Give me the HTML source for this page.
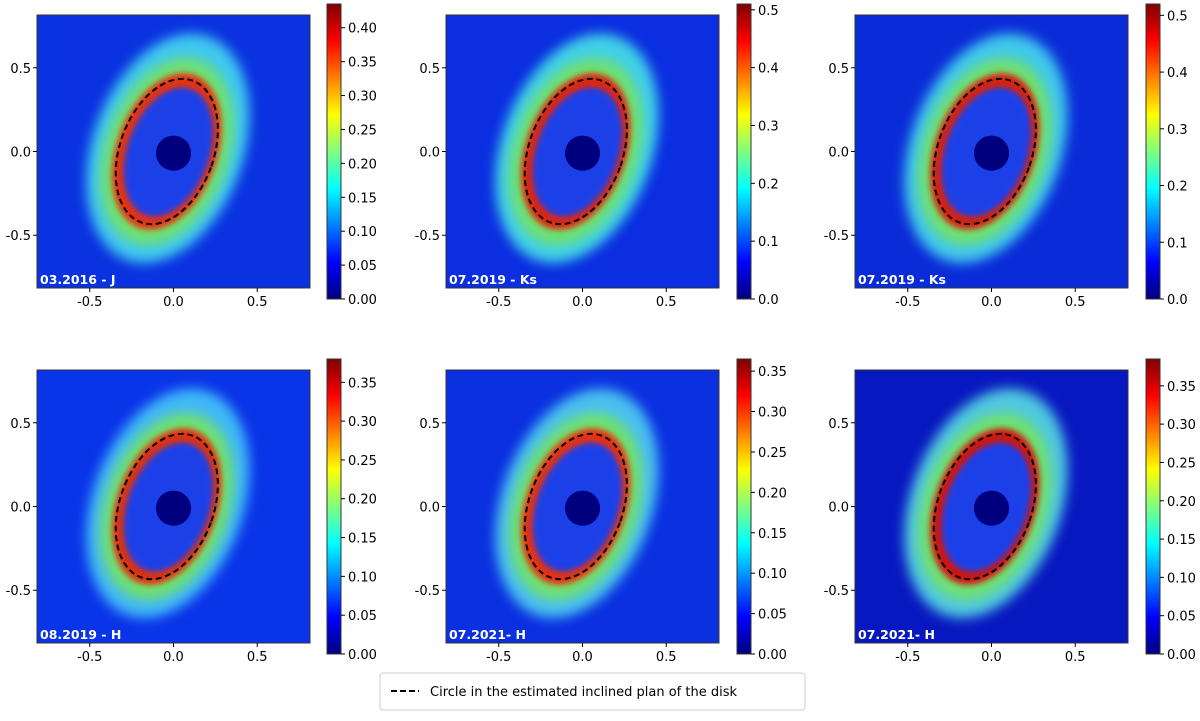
<!DOCTYPE html>
<html><head><meta charset="utf-8"><style>
body{margin:0;background:#fff;font-family:"Liberation Sans",sans-serif;}
svg text{font-family:"DejaVu Sans","Liberation Sans",sans-serif;}
</style></head><body>
<svg id="fig" width="1200" height="716" viewBox="0 0 1200 716" xmlns="http://www.w3.org/2000/svg">
<defs>
<linearGradient id="jet" x1="0" y1="1" x2="0" y2="0">
<stop offset="0" stop-color="#000080"/><stop offset="0.125" stop-color="#0000ff"/>
<stop offset="0.375" stop-color="#00ffff"/><stop offset="0.625" stop-color="#ffff00"/>
<stop offset="0.875" stop-color="#ff0000"/><stop offset="1" stop-color="#800000"/>
</linearGradient>
<filter id="b1" x="-50%" y="-50%" width="200%" height="200%"><feGaussianBlur stdDeviation="0.035"/></filter>
<filter id="b2" x="-50%" y="-50%" width="200%" height="200%"><feGaussianBlur stdDeviation="0.018"/></filter>
<clipPath id="clipimg"><rect x="-0.815" y="-0.815" width="1.63" height="1.63"/></clipPath>
</defs>
</svg>
<script>
const panelLabels = ["03.2016 - J","07.2019 - Ks","07.2019 - Ks","08.2019 - H","07.2021- H","07.2021- H"];
const cbMax = [0.435,0.51,0.52,0.38,0.365,0.385];
const cbTicks = [[0,0.05,0.1,0.15,0.2,0.25,0.3,0.35,0.4],[0,0.1,0.2,0.3,0.4,0.5],[0,0.1,0.2,0.3,0.4,0.5],
 [0,0.05,0.1,0.15,0.2,0.25,0.3,0.35],[0,0.05,0.1,0.15,0.2,0.25,0.3,0.35],[0,0.05,0.1,0.15,0.2,0.25,0.3,0.35]];
const cbDigits = [2,1,1,2,2,2];
const axisTicks = [-0.5,0,0.5];
const axisTickLabels = ["-0.5","0.0","0.5"];
const bgColors = ["#0a32e0","#0a2ee0","#0a2cd8","#0a34e8","#0a30e0","#0818c0"];
const ringColors = ["#e83010","#e02808","#d82008","#e03010","#e83010","#d01808"];
const haloColors = ["#40c8f0","#40d0e8","#40c8ec","#40b8f8","#48c0f0","#50c8e0"];
const NS="http://www.w3.org/2000/svg";
const fig=document.getElementById('fig');
function el(tag,attrs,parent){const e=document.createElementNS(NS,tag);for(const k in attrs)e.setAttribute(k,attrs[k]);(parent||fig).appendChild(e);return e;}
const colX=[37,446,855], rowY=[15,370], S=273, cbW=14;
const cbX=[327,737,1146], cbY=[4,359], cbH=295;
const half=0.815;
for(let i=0;i<6;i++){
 const c=i%3,r=Math.floor(i/3);
 const x0=colX[c],y0=rowY[r];
 const px=v=>x0+S/2+v/half*S/2, py=v=>y0+S/2-v/half*S/2;
 const g=el('g',{});
 
 
 const img=el('g',{transform:`translate(${x0+S/2},${y0+S/2}) scale(${S/2/half})`},g);
 
 
 const inner=el('g',{'clip-path':'url(#clipimg)'},img);
 el('rect',{x:-0.815,y:-0.815,width:1.63,height:1.63,fill:bgColors[i]},inner);
 const d=el('g',{transform:'translate(-0.04,0) rotate(20)'},inner);
 el('ellipse',{cx:0,cy:-0.02,rx:0.45,ry:0.71,fill:haloColors[i],filter:'url(#b1)'},d);
 el('ellipse',{cx:0,cy:0,rx:0.37,ry:0.58,fill:'#70e070',filter:'url(#b1)'},d);
 el('ellipse',{cx:0,cy:0,rx:0.3,ry:0.485,fill:ringColors[i],filter:'url(#b2)'},d);
 el('ellipse',{cx:0.01,cy:0,rx:0.245,ry:0.4,fill:'#1a40e8',filter:'url(#b2)'},d);
 el('circle',{cx:0,cy:0.01,r:0.105,fill:'#00007f'},inner);
 const dash=el('ellipse',{cx:0,cy:0,rx:0.28,ry:0.45,fill:'none',stroke:'#000','stroke-width':0.012,'stroke-dasharray':'0.035 0.022',transform:'translate(-0.04,0) rotate(20)'},img);
 
 
 el('rect',{x:x0,y:y0,width:S,height:S,fill:'none',stroke:'#333','stroke-width':1},g);
 const lbl=el('text',{x:x0+3,y:y0+S-4,fill:'#fff','font-size':12.5,'font-weight':'bold'},g);
 lbl.textContent=panelLabels[i];
 
 
 axisTicks.forEach((t,k)=>{
  el('line',{x1:px(t),x2:px(t),y1:y0+S,y2:y0+S+4,stroke:'#000'},g);
  const tx=el('text',{x:px(t),y:y0+S+18,'text-anchor':'middle','font-size':13},g);
  tx.textContent=axisTickLabels[k];
  
  
  el('line',{x1:x0-4,x2:x0,y1:py(t),y2:py(t),stroke:'#000'},g);
  const ty=el('text',{x:x0-6,y:py(t)+5,'text-anchor':'end','font-size':13},g);
  ty.textContent=axisTickLabels[k];
  
  
 });
 const cx=cbX[c],cy=cbY[r];
 const cb=el('rect',{x:cx,y:cy,width:cbW,height:cbH,fill:'url(#jet)',stroke:'#333','stroke-width':1},g);
 
 
 cbTicks[i].forEach(t=>{
  const yy=cy+cbH-t/cbMax[i]*cbH;
  el('line',{x1:cx+cbW,x2:cx+cbW+4,y1:yy,y2:yy,stroke:'#000'},g);
  const tt=el('text',{x:cx+cbW+7,y:yy+5,'font-size':13},g);
  tt.textContent=t.toFixed(cbDigits[i]);
  
  
 });
}
const lg=el('g',{});


el('rect',{x:380,y:673,width:425,height:37,rx:3,fill:'#fff',stroke:'#ccc'},lg);
el('line',{x1:391,x2:419,y1:691,y2:691,stroke:'#000','stroke-width':2,'stroke-dasharray':'6 3'},lg);
const lt=el('text',{x:430,y:696,'font-size':13},lg);
lt.textContent='Circle in the estimated inclined plan of the disk';


</script>
</body></html>
